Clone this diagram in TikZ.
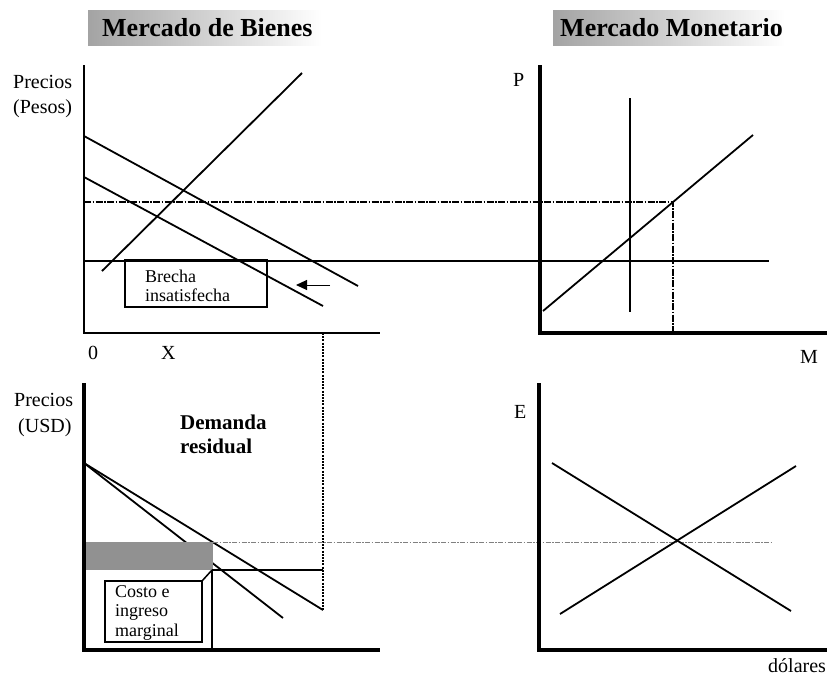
\documentclass[tikz,border=0pt]{standalone}
\usepackage{fontspec}
\setmainfont{Liberation Serif}
\usetikzlibrary{arrows.meta}
\begin{document}
\begin{tikzpicture}[x=1pt,y=-1pt,
  curve/.style={line width=1.8pt},
  axisA/.style={line width=2.6pt},
  axisB/.style={line width=3.6pt},
  thinline/.style={line width=1.3pt},
  boxline/.style={line width=1.5pt},
  dashdotline/.style={line width=1.9pt, dash pattern=on 7pt off 1.5pt on 1.5pt off 1.5pt},
  dotline/.style={line width=2.2pt, dash pattern=on 2pt off 1.2pt},
  greydot/.style={line width=0.9pt, gray, dash pattern=on 5pt off 1.5pt on 1.5pt off 1.5pt},
  lbl/.style={inner sep=0pt, anchor=base west, font=\fontsize{20}{24}\selectfont},
  small/.style={inner sep=0pt, anchor=base west, font=\fontsize{18}{21}\selectfont},
  bold/.style={inner sep=0pt, anchor=base west, font=\bfseries\fontsize{21}{24}\selectfont},
  title/.style={inner sep=0pt, anchor=base west, font=\bfseries\fontsize{26}{30}\selectfont},
  header/.style={left color=black!36, right color=white}
]
\useasboundingbox (0,0) rectangle (827,678);
\fill[white] (0,0) rectangle (827,678);

% headers
\shade[header] (88,10) rectangle (322,45);
\node[title] (hb) at (102,36) {Mercado de Bienes};
\shade[header] (553,10) rectangle (785,45);
\node[title] (hm) at (560,36) {Mercado Monetario};

% ---------- top-left panel ----------
\draw[axisA] (84,65) -- (84,333) -- (380,333);
\draw[curve] (102,271) -- (302,73);
\draw[curve] (84,136) -- (358,286);
\draw[curve] (84,177) -- (323,306);
\draw[dashdotline] (84,202) -- (673,202) -- (673,333);
\draw[thinline] (84,261) -- (769,261);
\draw[boxline] (125,260) rectangle (267,307);
\node[small] (br1) at (145,282) {Brecha};
\node[small] (br2) at (145,301) {insatisfecha};
\coordinate (arS) at (330,285);
\coordinate (arE) at (296,285);
\draw[line width=1pt, -{Triangle[length=11pt,width=10pt]}] (arS) -- (arE);
\draw[dotline] (323,333) -- (323,610);

\node[lbl] (p1) at (13,88) {Precios};
\node[lbl] (p2) at (13,113) {(Pesos)};
\node[lbl] (zero) at (88,359) {0};
\node[lbl] (xl) at (161,359) {X};

% ---------- top-right panel ----------
\draw[axisB] (540,65) -- (540,333) -- (827,333);
\draw[curve] (630,98) -- (630,312);
\draw[curve] (543,311) -- (753,135);
\node[lbl] (pl) at (513,86) {P};
\node[lbl] (ml) at (800,363) {M};

% ---------- bottom-left panel ----------
\draw[curve] (84,463) -- (323,610);
\draw[curve] (84,463) -- (283,618);
\fill[black!43] (84,542) rectangle (213,570);
\draw[greydot] (213,542) -- (773,542);
\draw[boxline] (212,570) -- (323,570);
\draw[boxline] (212,570) -- (212,650);
\draw[boxline] (105,581) rectangle (202,642);
\draw[boxline] (202,581) -- (212,570);
\draw[axisB] (84,383) -- (84,650) -- (380,650);
\node[small] (c1) at (115,597) {Costo e};
\node[small] (c2) at (115,616) {ingreso};
\node[small] (c3) at (115,636) {marginal};
\node[bold] (d1) at (180,429) {Demanda};
\node[bold] (d2) at (180,453) {residual};
\node[lbl] (p3) at (14,406) {Precios};
\node[lbl] (p4) at (18,432) {(USD)};

% ---------- bottom-right panel ----------
\draw[axisB] (539,383) -- (539,650) -- (827,650);
\draw[curve] (552,463) -- (791,611);
\draw[curve] (560,614) -- (796,466);
\node[lbl] (el) at (514,418) {E};
\node[lbl] (dl) at (768,672) {dólares};
\end{tikzpicture}
\end{document}
